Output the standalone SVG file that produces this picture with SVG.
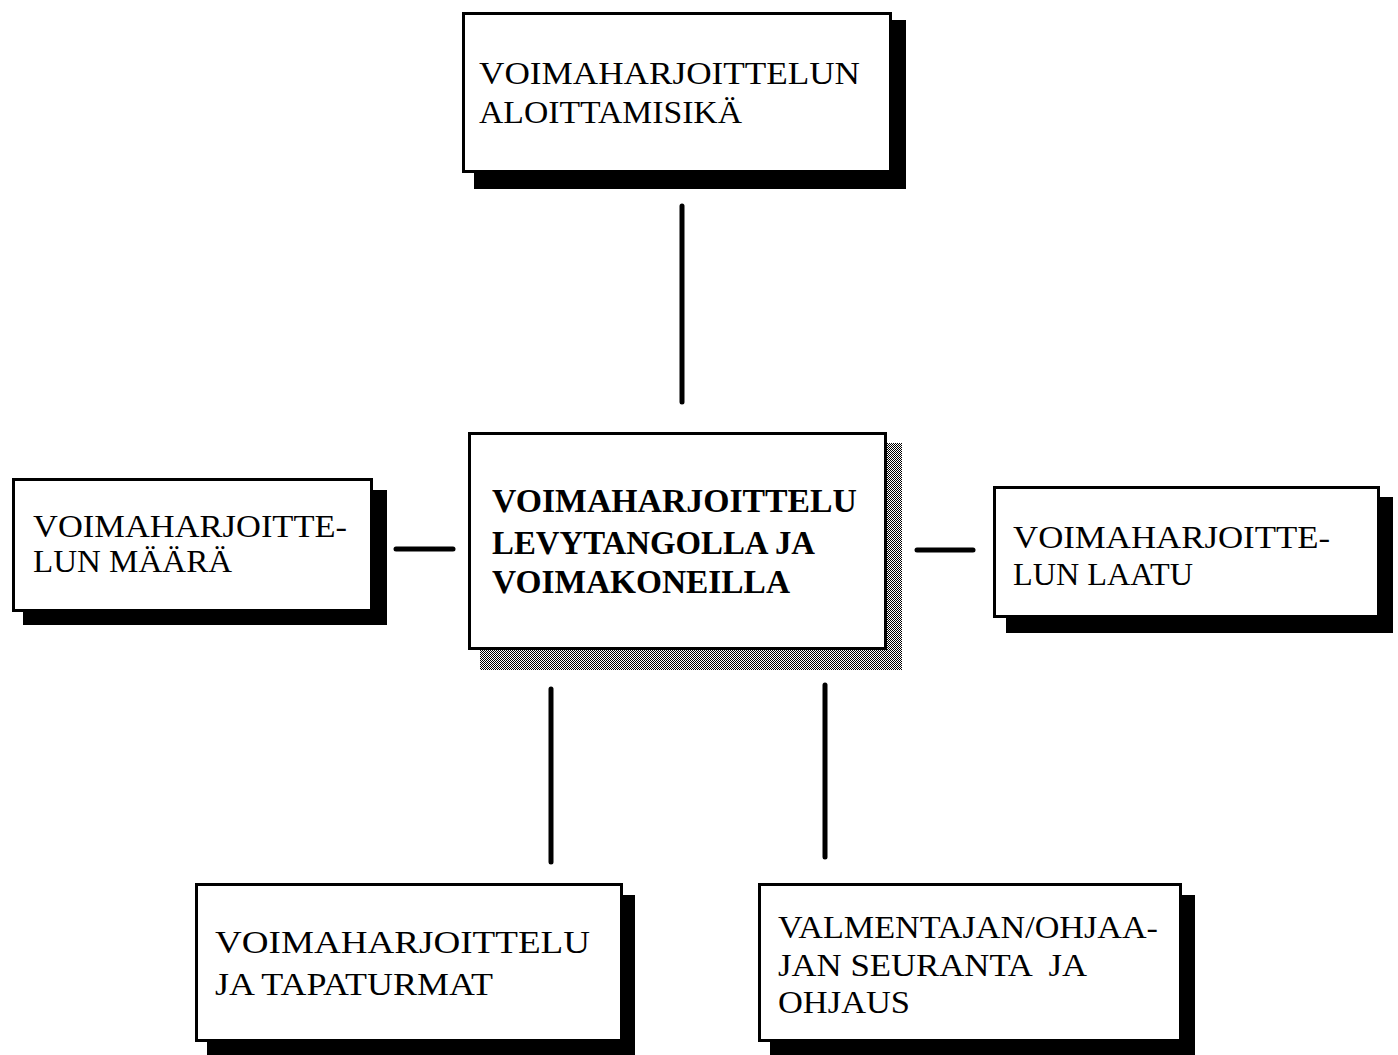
<svg xmlns="http://www.w3.org/2000/svg" width="1398" height="1055" viewBox="0 0 1398 1055">
<style>
.box{fill:#fff;stroke:#000;stroke-width:3}
.sh{fill:#000}
.t{font-family:"Liberation Serif","Times New Roman",serif;font-size:32px;fill:#000}
.b{font-weight:bold;font-size:33px}
.c{stroke:#000;stroke-width:5;stroke-linecap:round;fill:none}
</style>
<defs>
<pattern id="dither" width="2" height="2" patternUnits="userSpaceOnUse">
<rect width="2" height="2" fill="#fff"/>
<rect x="0" y="0" width="1" height="1" fill="#000"/>
<rect x="1" y="1" width="1" height="1" fill="#000"/>
</pattern>
</defs>
<rect width="1398" height="1055" fill="#fff"/>
<g id="connectors">
<line class="c" x1="682" y1="206" x2="682" y2="402"/>
<line class="c" x1="396" y1="549" x2="453" y2="549"/>
<line class="c" x1="917" y1="550" x2="973" y2="550"/>
<line class="c" x1="551" y1="689" x2="551" y2="862"/>
<line class="c" x1="825" y1="685" x2="825" y2="857"/>
</g>
<g id="top">
<rect class="sh" x="474" y="20" width="432" height="169"/>
<rect class="box" x="463.5" y="13.5" width="427" height="158"/>
<text class="t" x="479" y="84" textLength="381" lengthAdjust="spacingAndGlyphs">VOIMAHARJOITTELUN</text>
<text class="t" x="479" y="123" textLength="263" lengthAdjust="spacingAndGlyphs">ALOITTAMISIKÄ</text>
</g>
<g id="left">
<rect class="sh" x="23" y="490" width="364" height="135"/>
<rect class="box" x="13.5" y="479.5" width="358" height="131"/>
<text class="t" x="33" y="537" textLength="314" lengthAdjust="spacingAndGlyphs">VOIMAHARJOITTE-</text>
<text class="t" x="33" y="572" textLength="199" lengthAdjust="spacingAndGlyphs">LUN MÄÄRÄ</text>
</g>
<g id="right">
<rect class="sh" x="1006" y="497" width="387" height="136"/>
<rect class="box" x="994.5" y="487.5" width="384" height="129"/>
<text class="t" x="1013" y="548" textLength="317" lengthAdjust="spacingAndGlyphs">VOIMAHARJOITTE-</text>
<text class="t" x="1013" y="585" textLength="180" lengthAdjust="spacingAndGlyphs">LUN LAATU</text>
</g>
<g id="center">
<rect fill="url(#dither)" x="480" y="443" width="422" height="227"/>
<rect class="box" x="469.5" y="433.5" width="416" height="215"/>
<text class="t b" x="492" y="512" textLength="365" lengthAdjust="spacingAndGlyphs">VOIMAHARJOITTELU</text>
<text class="t b" x="492" y="554" textLength="323" lengthAdjust="spacingAndGlyphs">LEVYTANGOLLA JA</text>
<text class="t b" x="492" y="593" textLength="298" lengthAdjust="spacingAndGlyphs">VOIMAKONEILLA</text>
</g>
<g id="bottom-left">
<rect class="sh" x="207" y="895" width="428" height="160"/>
<rect class="box" x="196.5" y="884.5" width="425" height="156"/>
<text class="t" x="215" y="953" textLength="375" lengthAdjust="spacingAndGlyphs">VOIMAHARJOITTELU</text>
<text class="t" x="215" y="995" textLength="278" lengthAdjust="spacingAndGlyphs">JA TAPATURMAT</text>
</g>
<g id="bottom-right">
<rect class="sh" x="770" y="895" width="425" height="160"/>
<rect class="box" x="759.5" y="884.5" width="421" height="156"/>
<text class="t" x="778" y="938" textLength="380" lengthAdjust="spacingAndGlyphs">VALMENTAJAN/OHJAA-</text>
<text class="t" x="778" y="976" textLength="309" lengthAdjust="spacingAndGlyphs" xml:space="preserve">JAN SEURANTA  JA</text>
<text class="t" x="778" y="1013" textLength="132" lengthAdjust="spacingAndGlyphs">OHJAUS</text>
</g>
</svg>
